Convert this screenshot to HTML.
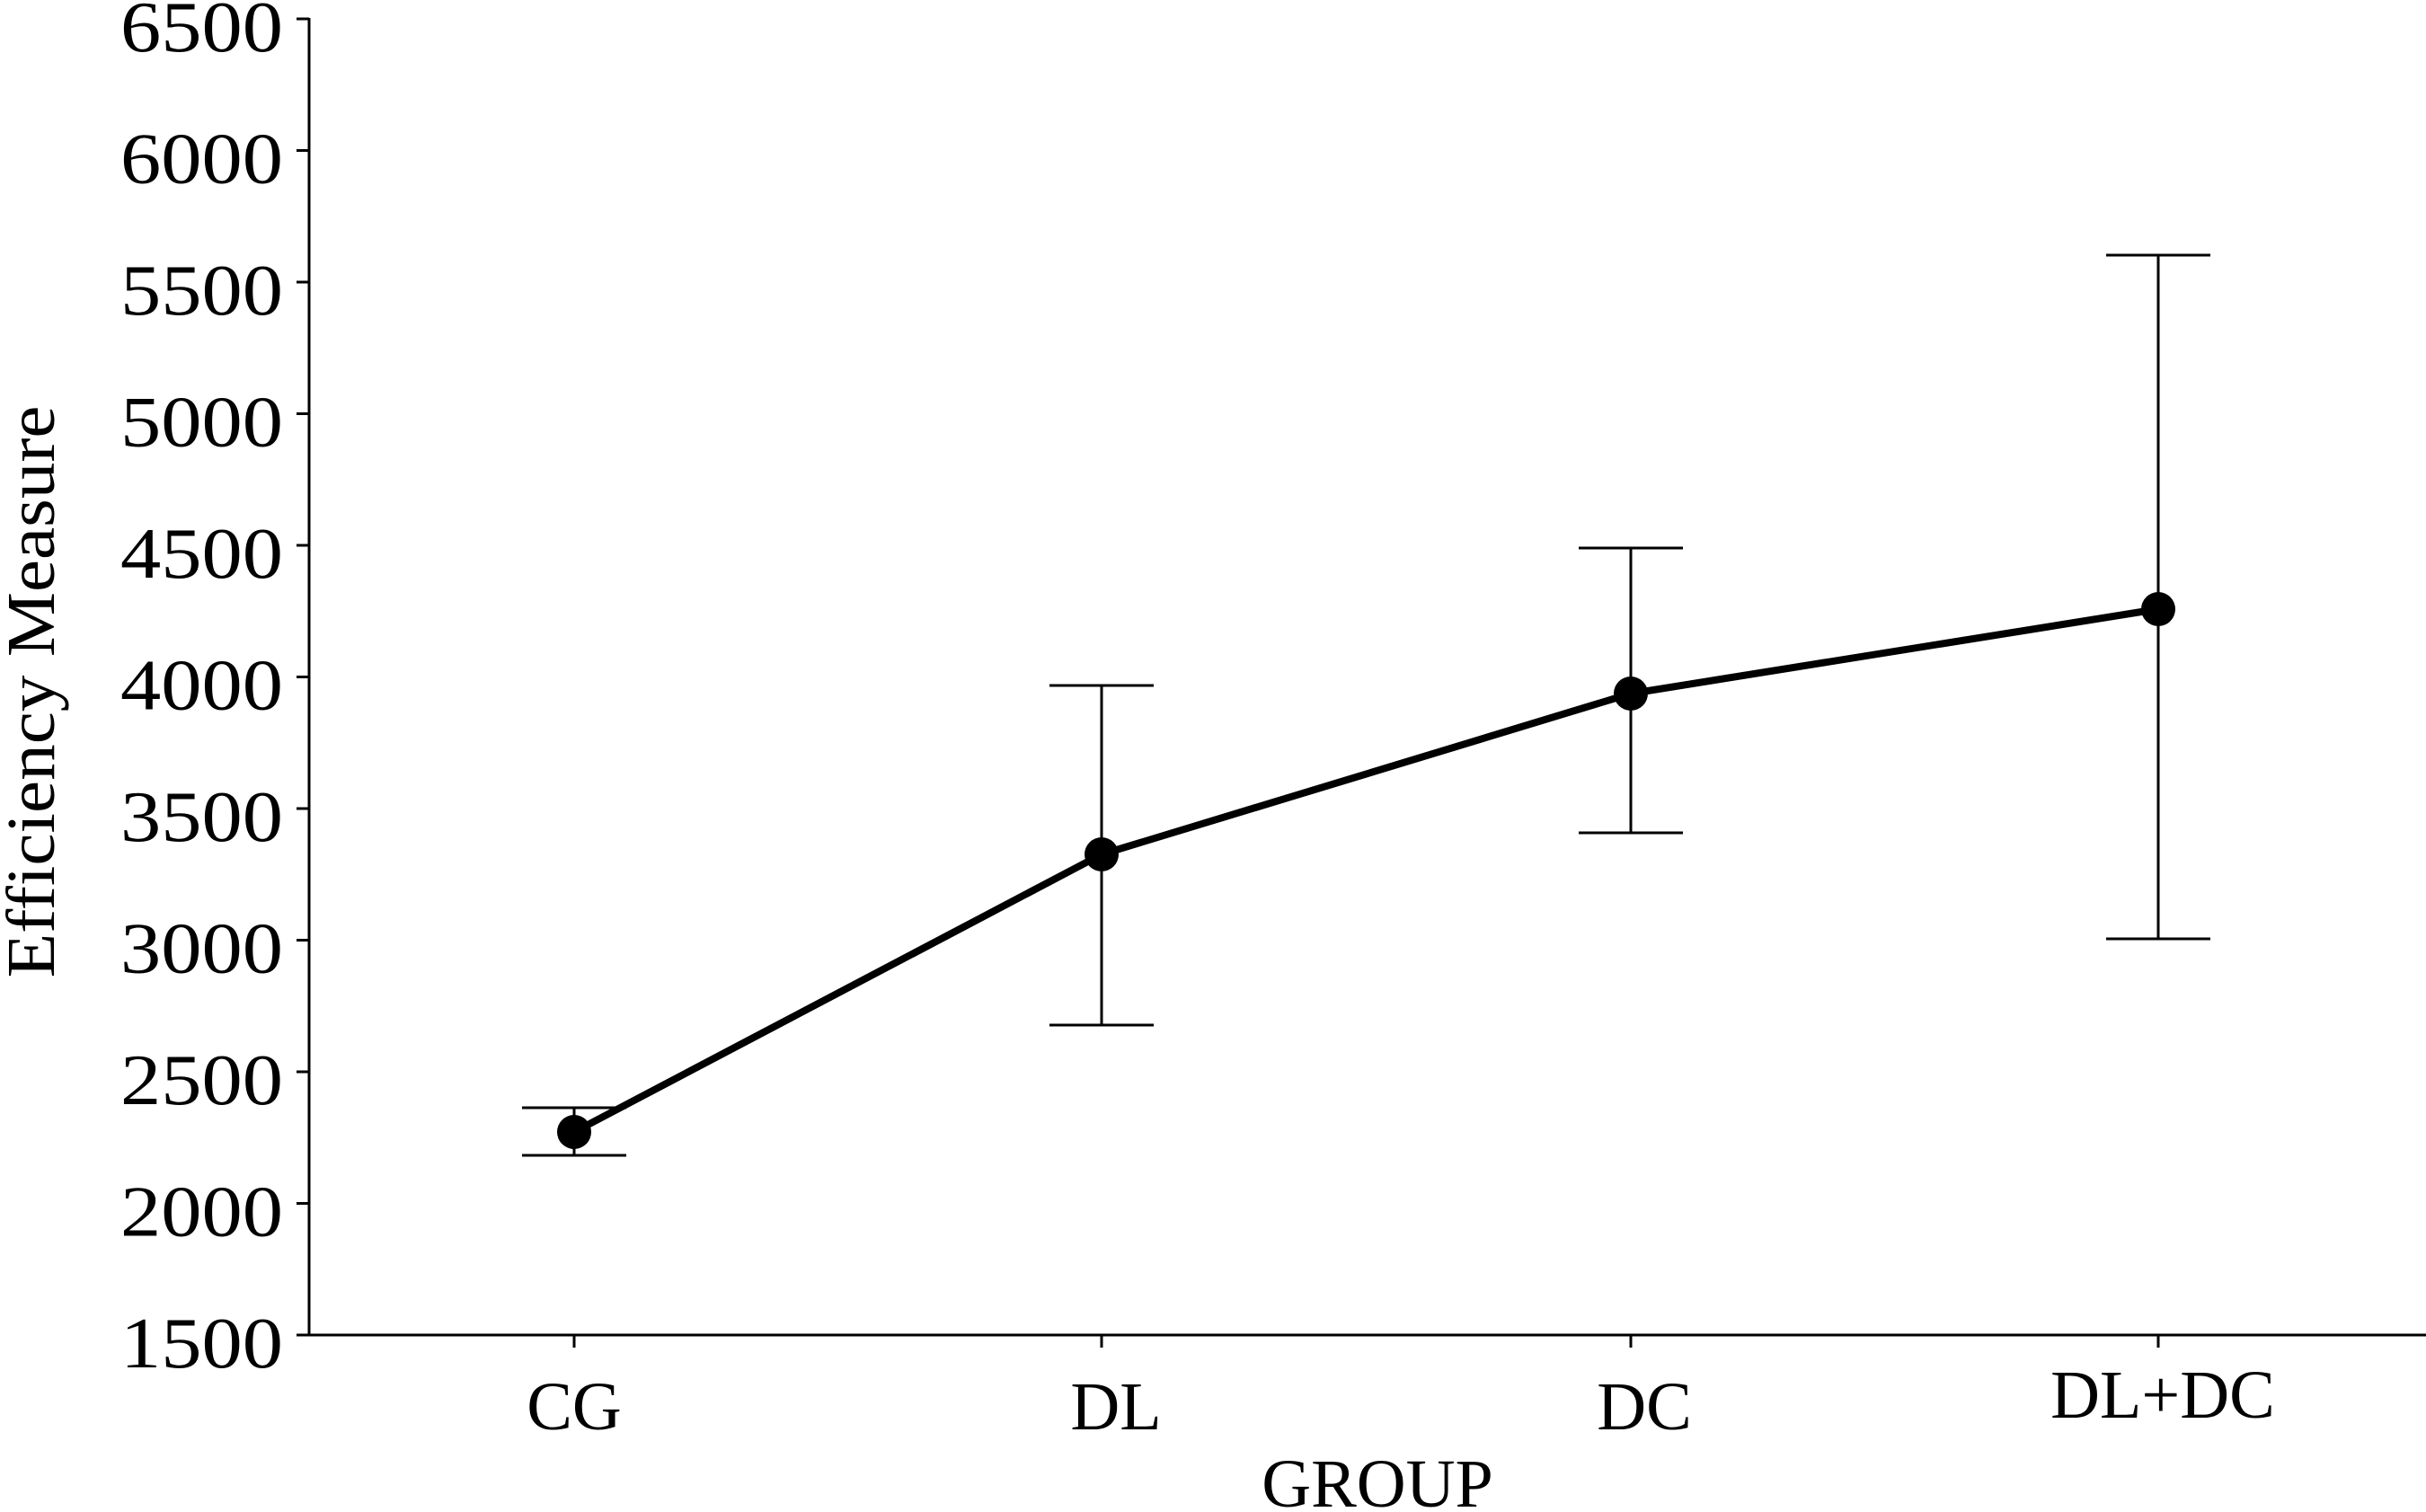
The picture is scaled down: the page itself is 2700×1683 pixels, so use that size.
<!DOCTYPE html>
<html><head><meta charset="utf-8"><style>
html,body{margin:0;padding:0;background:#fff;}
svg{display:block;}
text{font-family:"Liberation Serif",serif;fill:#000;}
</style></head><body>
<svg width="2700" height="1683" viewBox="0 0 2700 1683" xmlns="http://www.w3.org/2000/svg">
<g stroke="#000" stroke-width="3" fill="none">
<line x1="344" y1="20" x2="344" y2="1487"/>
<line x1="342" y1="1486" x2="2700" y2="1486"/>
<line x1="330" y1="21" x2="344" y2="21"/>
<line x1="330" y1="167.5" x2="344" y2="167.5"/>
<line x1="330" y1="314" x2="344" y2="314"/>
<line x1="330" y1="460.5" x2="344" y2="460.5"/>
<line x1="330" y1="607" x2="344" y2="607"/>
<line x1="330" y1="753.5" x2="344" y2="753.5"/>
<line x1="330" y1="900" x2="344" y2="900"/>
<line x1="330" y1="1046.5" x2="344" y2="1046.5"/>
<line x1="330" y1="1193" x2="344" y2="1193"/>
<line x1="330" y1="1339.5" x2="344" y2="1339.5"/>
<line x1="330" y1="1486" x2="344" y2="1486"/>
<line x1="639" y1="1486" x2="639" y2="1500"/>
<line x1="1226" y1="1486" x2="1226" y2="1500"/>
<line x1="1815" y1="1486" x2="1815" y2="1500"/>
<line x1="2402" y1="1486" x2="2402" y2="1500"/>
<line x1="639" y1="1233" x2="639" y2="1286"/><line x1="581" y1="1233" x2="697" y2="1233"/><line x1="581" y1="1286" x2="697" y2="1286"/>
<line x1="1226" y1="763" x2="1226" y2="1141"/><line x1="1168" y1="763" x2="1284" y2="763"/><line x1="1168" y1="1141" x2="1284" y2="1141"/>
<line x1="1815" y1="610" x2="1815" y2="927"/><line x1="1757" y1="610" x2="1873" y2="610"/><line x1="1757" y1="927" x2="1873" y2="927"/>
<line x1="2402" y1="284" x2="2402" y2="1045"/><line x1="2344" y1="284" x2="2460" y2="284"/><line x1="2344" y1="1045" x2="2460" y2="1045"/>
</g>
<polyline points="639,1260 1226,951 1815,772 2402,678" fill="none" stroke="#000" stroke-width="8" stroke-linejoin="round"/>
<g fill="#000">
<circle cx="639" cy="1260" r="19"/><circle cx="1226" cy="951" r="19"/><circle cx="1815" cy="772" r="19"/><circle cx="2402" cy="678" r="19"/>
</g>
<g font-size="80" text-anchor="end">
<text x="315" y="57" textLength="181" lengthAdjust="spacingAndGlyphs">6500</text>
<text x="315" y="203.5" textLength="181" lengthAdjust="spacingAndGlyphs">6000</text>
<text x="315" y="350" textLength="181" lengthAdjust="spacingAndGlyphs">5500</text>
<text x="315" y="496.5" textLength="181" lengthAdjust="spacingAndGlyphs">5000</text>
<text x="315" y="643" textLength="181" lengthAdjust="spacingAndGlyphs">4500</text>
<text x="315" y="789.5" textLength="181" lengthAdjust="spacingAndGlyphs">4000</text>
<text x="315" y="936" textLength="181" lengthAdjust="spacingAndGlyphs">3500</text>
<text x="315" y="1082.5" textLength="181" lengthAdjust="spacingAndGlyphs">3000</text>
<text x="315" y="1229" textLength="181" lengthAdjust="spacingAndGlyphs">2500</text>
<text x="315" y="1375.5" textLength="181" lengthAdjust="spacingAndGlyphs">2000</text>
<text x="315" y="1522" textLength="181" lengthAdjust="spacingAndGlyphs">1500</text>
</g>
<g font-size="76" text-anchor="middle">
<text x="639" y="1591">CG</text>
<text x="1242" y="1591">DL</text>
<text x="1830" y="1591">DC</text>
<text x="2407" y="1578">DL+DC</text>
<text x="1533" y="1677">GROUP</text>
<text transform="translate(60,770) rotate(-90)" textLength="637" lengthAdjust="spacingAndGlyphs">Efficiency Measure</text>
</g>
</svg>
</body></html>
